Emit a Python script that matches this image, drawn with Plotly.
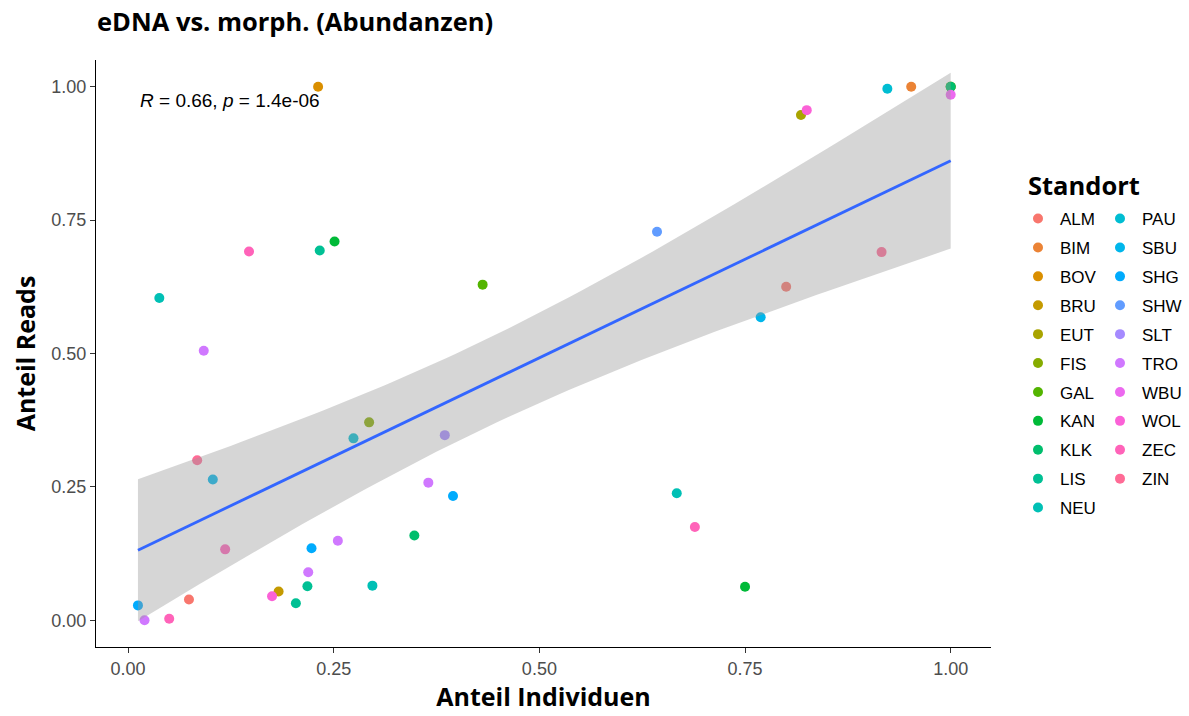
import math
import numpy as np
import plotly.graph_objects as go

# ---------------- data ----------------
sites = ["ALM", "BIM", "BOV", "BRU", "EUT", "FIS", "GAL", "KAN", "KLK", "LIS", "NEU",
         "PAU", "SBU", "SHG", "SHW", "SLT", "TRO", "WBU", "WOL", "ZEC", "ZIN"]

pt_site = ["ALM", "ALM", "BIM", "BIM", "BOV", "BRU", "EUT", "FIS", "GAL", "GAL", "KAN", "KAN",
           "KLK", "KLK", "LIS", "LIS", "LIS", "NEU", "NEU", "NEU", "PAU", "PAU",
           "SBU", "SBU", "SHG", "SHG", "SHG", "SHW", "SLT", "TRO", "TRO", "TRO",
           "TRO", "TRO", "WBU", "WOL", "WOL", "ZEC", "ZEC", "ZEC", "ZEC", "ZIN", "ZIN"]
anteil_individuen = [0.074, 0.800, 0.952, 1.000, 0.231, 0.183, 0.818, 0.293, 0.431, 1.000, 0.251, 0.750,
                     1.000, 0.348, 0.204, 0.218, 0.233, 0.038, 0.297, 0.667, 0.923, 0.274,
                     0.769, 0.103, 0.012, 0.223, 0.395, 0.643, 0.385, 0.092, 0.020, 0.219,
                     0.255, 0.365, 1.000, 0.825, 0.175, 0.147, 0.050, 0.689, 0.118, 0.916, 0.084]
anteil_reads = [0.039, 0.625, 1.000, 1.000, 1.000, 0.054, 0.947, 0.371, 0.629, 1.000, 0.710, 0.063,
                1.000, 0.159, 0.032, 0.064, 0.693, 0.604, 0.065, 0.238, 0.996, 0.341,
                0.568, 0.264, 0.028, 0.135, 0.233, 0.728, 0.347, 0.505, 0.000, 0.090,
                0.149, 0.258, 0.985, 0.956, 0.045, 0.691, 0.003, 0.175, 0.133, 0.690, 0.300]

stat_label = "<i>R</i> = 0.66, <i>p</i> = 1.4e-06"
x_ticks = [0.0, 0.25, 0.5, 0.75, 1.0]
x_tick_labels = ["0.00", "0.25", "0.50", "0.75", "1.00"]
y_ticks = [0.0, 0.25, 0.5, 0.75, 1.0]
y_tick_labels = ["0.00", "0.25", "0.50", "0.75", "1.00"]


# ---------------- ggplot2 hue palette ----------------
def hcl_hex(h, c=100.0, l=65.0):
    WY = 100.0
    un, vn = 0.1978398, 0.4683363
    hr = math.radians(h)
    U, V = c * math.cos(hr), c * math.sin(hr)
    Y = WY * (((l + 16) / 116) ** 3 if l > 7.999592 else l / 903.3)
    u = U / (13 * l) + un
    v = V / (13 * l) + vn
    X = 9.0 * Y * u / (4 * v)
    Z = -X / 3 - 5 * Y + 3 * Y / v

    def gam(t):
        return 1.055 * t ** (1 / 2.4) - 0.055 if t > 0.00304 else 12.92 * t

    r = gam((3.240479 * X - 1.537150 * Y - 0.498535 * Z) / WY)
    g = gam((-0.969256 * X + 1.875992 * Y + 0.041556 * Z) / WY)
    b = gam((0.055648 * X - 0.204043 * Y + 1.057311 * Z) / WY)
    cl = lambda t: int(round(255 * min(1, max(0, t))))
    return "#%02X%02X%02X" % (cl(r), cl(g), cl(b))


n = len(sites)
colors = {s: hcl_hex(15 + 360 * i / n) for i, s in enumerate(sites)}

# ---------------- linear fit + 95% CI ----------------
xa = np.array(anteil_individuen)
ya = np.array(anteil_reads)
N = len(xa)
slope, intercept = np.polyfit(xa, ya, 1)
resid = ya - (slope * xa + intercept)
s = math.sqrt((resid ** 2).sum() / (N - 2))
xm = xa.mean()
sxx = ((xa - xm) ** 2).sum()
t_crit = 2.0195  # t(0.975, df = 41)
xs = np.linspace(xa.min(), xa.max(), 80)
fit = slope * xs + intercept
se = s * np.sqrt(1 / N + (xs - xm) ** 2 / sxx)
lo, hi = fit - t_crit * se, fit + t_crit * se

fig = go.Figure()

for i, site in enumerate(sites):
    px = [x for x, st in zip(anteil_individuen, pt_site) if st == site]
    py = [y for y, st in zip(anteil_reads, pt_site) if st == site]
    fig.add_trace(go.Scatter(
        x=px, y=py, mode="markers", name=site,
        legendgroup=site,
        legend="legend" if i < 11 else "legend2",
        marker=dict(color=colors[site], size=10, line=dict(width=0)),
    ))

fig.add_trace(go.Scatter(
    x=np.concatenate([xs, xs[::-1]]), y=np.concatenate([hi, lo[::-1]]),
    mode="lines", fill="toself", fillcolor="rgba(153,153,153,0.4)",
    line=dict(width=0), showlegend=False, hoverinfo="skip"))
fig.add_trace(go.Scatter(
    x=xs, y=fit, mode="lines", line=dict(color="#3366FF", width=2.8),
    showlegend=False))

fig.add_annotation(x=0.012, y=0.974, xref="x", yref="y", text=stat_label,
                   showarrow=False, xanchor="left", yanchor="middle",
                   font=dict(family="Liberation Sans, Arial", size=19, color="black"))

title_font = dict(family="Open Sans", size=25.5, color="black")

PT, PB = 60, 69
ph = 716 - PT - PB
fig.add_annotation(x=(1026 - 96) / 895, y=(716 - PB - 185) / ph, xref="paper", yref="paper",
                   text="<b>Standort</b>", showarrow=False, xanchor="left", yanchor="middle",
                   font=title_font)

axis_common = dict(
    showgrid=False, zeroline=False, showline=True, linecolor="black", linewidth=1.2,
    ticks="outside", ticklen=5, tickcolor="#333333", tickwidth=1.1,
    tickfont=dict(family="Liberation Sans, Arial", size=18, color="#4D4D4D"),
)

fig.update_layout(
    width=1189, height=716,
    paper_bgcolor="white", plot_bgcolor="white",
    margin=dict(l=96, r=198, t=PT, b=PB, autoexpand=False),
    title=dict(text="<b>eDNA vs. morph. (Abundanzen)</b>", x=97 / 1189, xanchor="left",
               y=1 - 22 / 716, yanchor="middle", font=title_font),
    xaxis=dict(range=[-0.039, 1.049], tickvals=x_ticks, ticktext=x_tick_labels,
               title=dict(text="<b>Anteil Individuen</b>", standoff=8,
                          font=dict(family="Open Sans", size=25, color="black")),
               **axis_common),
    yaxis=dict(range=[-0.05, 1.05], tickvals=y_ticks, ticktext=y_tick_labels,
               title=dict(text="<b>Anteil Reads</b>", standoff=8,
                          font=dict(family="Open Sans", size=25, color="black")),
               **axis_common),
    legend=dict(x=(1016 - 96) / 895, xanchor="left", y=(716 - PB - 201) / ph, yanchor="top",
                traceorder="grouped", tracegroupgap=3.8,
                font=dict(family="Liberation Sans, Arial", size=17, color="black"),
                bgcolor="rgba(0,0,0,0)", itemwidth=34),
    legend2=dict(x=(1098 - 96) / 895, xanchor="left", y=(716 - PB - 201) / ph, yanchor="top",
                 traceorder="grouped", tracegroupgap=3.8,
                 font=dict(family="Liberation Sans, Arial", size=17, color="black"),
                 bgcolor="rgba(0,0,0,0)", itemwidth=34),
    showlegend=True,
)

fig.write_html("out.html")
